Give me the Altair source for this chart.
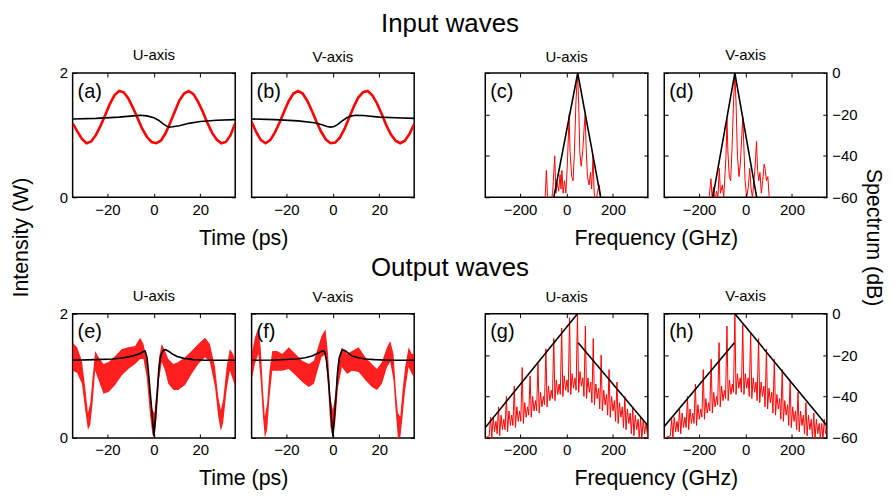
import altair as alt
import pandas as pd

FONT = "Liberation Sans"
RED = "#ff0000"
W, H = 163.5, 125
TK = 4

# ---------------- input waves, time domain (a) (b) ----------------
T_IN = [-35, -33, -31, -29, -27, -25, -23, -21, -19, -17, -15, -13, -11, -9, -7, -5, -3, -1,
        1, 3, 5, 7, 9, 11, 13, 15, 17, 19, 21, 23, 25, 27, 29, 31, 33, 35]
RED_A = [1.19, 1.06, 0.94, 0.87, 0.90, 1.00, 1.15, 1.32, 1.50, 1.64, 1.71, 1.69, 1.59, 1.44, 1.27, 1.10, 0.97, 0.89,
         0.87, 0.91, 1.03, 1.20, 1.38, 1.56, 1.67, 1.71, 1.66, 1.54, 1.38, 1.20, 1.04, 0.93, 0.87, 0.89, 1.00, 1.19]
RED_B = [1.21, 1.05, 0.92, 0.87, 0.92, 1.04, 1.20, 1.38, 1.55, 1.67, 1.71, 1.67, 1.55, 1.39, 1.21, 1.05, 0.93, 0.87,
         0.88, 0.96, 1.10, 1.28, 1.46, 1.61, 1.69, 1.71, 1.64, 1.51, 1.34, 1.16, 1.01, 0.91, 0.87, 0.91, 1.02, 1.18]
T_BA = [-35, -25, -15, -9, -6, -3, 0, 2, 4, 5.5, 6.5, 8, 11, 15, 20, 27, 35]
BLK_A = [1.26, 1.27, 1.29, 1.31, 1.32, 1.31, 1.28, 1.24, 1.18, 1.145, 1.13, 1.135, 1.15, 1.19, 1.22, 1.24, 1.25]
T_BB = [-35, -25, -15, -8, -5, -2.5, -1, 0.5, 2, 4, 6, 8, 10, 13, 20, 27, 35]
BLK_B = [1.26, 1.25, 1.23, 1.20, 1.17, 1.14, 1.13, 1.14, 1.17, 1.23, 1.28, 1.31, 1.32, 1.315, 1.29, 1.28, 1.27]

# ---------------- input spectra (c) (d) ----------------
F_C = [-100, -92, -87, -82, -70, -60, -51, -46, -40, -34, -28, -24, -20, -15, -9, -3, 3, 8, 11, 15, 22, 28,
       34, 40, 47, 52, 57, 63, 70, 76, 80, 84, 90, 97, 103, 108, 114, 119, 126, 134, 141, 146, 152]
DB_C = [-62, -60, -47, -60, -63, -58, -40, -58, -53, -57, -49, -56, -47, -58, -52, -58, -45, -30, -20, -38, -50, -52,
        -38, -15, 0, -14, -38, -45, -37, -26, -20, -35, -50, -54, -48, -56, -40, -58, -62, -57, -54, -60, -64]
F_BC = [-55, 48, 147]
DB_BC = [-60, 0, -60]
F_D = [-160, -149, -144, -138, -132, -125, -119, -113, -108, -100, -94, -88, -84, -80, -76, -70, -64, -58, -52, -46,
       -41, -35, -28, -22, -16, -12, -8, -2, 5, 12, 18, 24, 30, 36, 42, 47, 52, 57, 62, 68, 74, 80, 84, 90, 96, 102, 108]
DB_D = [-64, -51, -60, -55, -62, -57, -60, -46, -58, -54, -60, -48, -40, -22, -38, -50, -52, -36, -15, 0,
        -14, -40, -50, -43, -30, -21, -33, -52, -60, -55, -46, -56, -60, -52, -44, -33, -47, -52, -48, -58, -52, -44, -46, -52, -50, -60, -64]
F_BD = [-141, -46, 48]
DB_BD = [-60, 0, -60]

# ---------------- output waves, time domain (e) (f): noisy band limits ----------------
T_E = [-35, -33.1, -31, -29.6, -28.4, -27.4, -26.4, -25.3, -23.8, -21.7, -19.5, -16.7, -13.8, -11, -8.1, -5.9, -4.5,
       -3.1, -1.6, -0.6, 0.2, 1.2, 2.2, 3.4, 4.8, 6.2, 8.4, 10.5, 13.4, 16.2, 19.1, 22, 24.1, 26.3, 27.7, 28.8, 29.8,
       31.3, 32.7, 34.1, 35]
HI_E = [1.53, 1.46, 1.24, 0.82, 0.40, 0.56, 0.98, 1.40, 1.30, 1.19, 1.22, 1.32, 1.43, 1.46, 1.48, 1.61, 1.51,
        1.27, 0.71, 0.45, 0.40, 0.77, 1.30, 1.51, 1.40, 1.27, 1.19, 1.22, 1.30, 1.40, 1.51, 1.61, 1.51, 1.14, 0.66, 0.45, 0.61,
        1.14, 1.43, 1.35, 1.24]
LO_E = [1.08, 1.05, 0.87, 0.45, 0.13, 0.21, 0.56, 1.08, 0.93, 0.71, 0.74, 0.85, 1.01, 1.11, 1.19, 1.27, 1.27,
        0.98, 0.34, 0.05, 0.00, 0.34, 0.93, 1.22, 1.08, 0.87, 0.77, 0.77, 0.85, 1.03, 1.19, 1.30, 1.22, 0.82, 0.34, 0.11, 0.24,
        0.77, 1.08, 0.93, 0.82]
T_BE = [-35, -25, -18, -13, -9, -6, -4.5, -3.8, -3, -2.4, -1.2, -0.5, 0, 0.5, 1.1, 2.2, 3, 4, 5, 6.5, 8, 10, 13, 17, 22, 35]
BLK_E = [1.25, 1.26, 1.27, 1.29, 1.32, 1.36, 1.39, 1.40, 1.30, 1.08, 0.56, 0.25, 0.03, 0.25, 0.56, 1.14, 1.33, 1.41,
         1.42, 1.39, 1.35, 1.31, 1.28, 1.26, 1.25, 1.25]
T_F = [-35, -33.6, -32.1, -31.1, -30.1, -29.3, -28.3, -27.3, -26.1, -24, -21.8, -19, -16.1, -13.2, -10.4, -8.2, -6.4,
       -4.9, -3.2, -2.1, -1.1, 0, 1.1, 2.2, 3.9, 6.1, 8.2, 11.1, 14, 16.8, 19, 21.1, 23.3, 24.7, 26.1, 27.1, 28, 29, 30,
       31.1, 32.6, 34, 35]
HI_F = [1.35, 1.61, 1.77, 1.46, 0.77, 0.34, 0.56, 1.08, 1.40, 1.40, 1.35, 1.46, 1.35, 1.24, 1.19, 1.24, 1.46,
        1.64, 1.75, 1.35, 0.66, 0.45, 0.71, 1.24, 1.46, 1.35, 1.40, 1.46, 1.30, 1.19, 1.11, 1.22, 1.46, 1.56, 1.35, 0.77, 0.40,
        0.34, 0.77, 1.14, 1.46, 1.35, 1.35]
LO_F = [0.93, 1.19, 1.35, 0.93, 0.34, 0.00, 0.13, 0.66, 1.08, 1.08, 1.08, 1.11, 1.01, 0.90, 0.82, 0.87, 1.11,
        1.30, 1.35, 0.82, 0.19, 0.00, 0.29, 0.82, 1.14, 1.03, 1.08, 1.06, 0.93, 0.82, 0.77, 0.87, 1.14, 1.22, 0.93, 0.40, 0.00,
        0.00, 0.34, 0.77, 1.14, 1.03, 0.98]
T_BF = [-35, -25, -16, -12, -9, -6, -4.4, -3.6, -2.8, -2, -1, -0.4, 0, 0.4, 1, 2, 2.8, 3.9, 5, 6.5, 8.2, 11, 14, 18, 24, 35]
BLK_F = [1.25, 1.255, 1.27, 1.29, 1.32, 1.37, 1.40, 1.39, 1.25, 0.98, 0.50, 0.20, 0.02, 0.20, 0.50, 1.05, 1.30, 1.41,
         1.41, 1.37, 1.32, 1.29, 1.27, 1.26, 1.25, 1.25]

# ---------------- output spectra (g) (h) ----------------
F_G = [-350,
       -333, -327, -322, -316, -310, -304, -299, -293, -288, -282, -276, -270,
       -265, -259, -254, -248, -242, -236, -231, -225, -220, -214, -208, -202,
       -197, -191, -186, -180, -174, -168, -163, -157, -152, -146, -140, -134,
       -129, -123, -118, -112, -106, -100, -95, -89, -84, -78, -72, -66,
       -61, -55, -50, -44, -38, -32, -27, -21, -16, -10, -4, 2,
       7, 13, 18, 24, 30, 36, 41, 47, 52, 58, 64, 70,
       75, 81, 86, 92, 98, 104, 109, 115, 120, 126, 132, 138,
       143, 149, 154, 160, 166, 172, 177, 183, 188, 194, 200, 206,
       211, 217, 222, 228, 234, 240, 245, 251, 256, 262, 268, 274,
       279, 285, 290, 296, 302, 308, 313, 319, 324, 330, 336, 342,
       350]
DB_G = [-60,
        -59, -50, -60, -50, -57, -52, -58, -45, -59, -49, -56, -51,
        -56, -40, -57, -47, -54, -49, -54, -35, -55, -45, -52, -47,
        -52, -26, -53, -43, -50, -45, -49, -30, -50, -40, -47, -42,
        -47, -24, -48, -38, -45, -40, -44, -17, -45, -35, -42, -37,
        -41, -12, -42, -32, -39, -34, -39, -7, -40, -30, -37, -32,
        -38, -2, -39, -29, -36, -31, -37, 0, -38, -28, -35, -31,
        -40, -6, -41, -31, -38, -33, -43, -12, -44, -34, -41, -36,
        -46, -20, -47, -37, -44, -39, -49, -27, -50, -40, -47, -42,
        -52, -33, -53, -43, -50, -45, -55, -40, -56, -46, -53, -48,
        -58, -45, -59, -49, -56, -51, -60, -50, -61, -51, -58, -53,
        -60]
F_BG = [-350, 47, 50, 350]
DB_BG = [-55, 0, -14, -54]
SEG_G = [0, 0, 1, 1]
F_H = [-350,
       -324, -318, -313, -307, -301, -295, -290, -284, -279, -273, -267, -261,
       -256, -250, -245, -239, -233, -227, -222, -216, -211, -205, -199, -193,
       -188, -182, -177, -171, -165, -159, -154, -148, -143, -137, -131, -125,
       -120, -114, -109, -103, -97, -91, -86, -80, -75, -69, -63, -57,
       -52, -46, -41, -35, -29, -23, -18, -12, -7, -1, 5, 11,
       16, 22, 27, 33, 39, 45, 50, 56, 61, 67, 73, 79,
       84, 90, 95, 101, 107, 113, 118, 124, 129, 135, 141, 147,
       152, 158, 163, 169, 175, 181, 186, 192, 197, 203, 209, 215,
       220, 226, 231, 237, 243, 249, 254, 260, 265, 271, 277, 283,
       288, 294, 299, 305, 311, 317, 322, 328, 333, 339, 345, 350]
DB_H = [-60,
        -59, -51, -60, -50, -57, -52, -57, -46, -58, -48, -55, -50,
        -55, -40, -56, -46, -53, -48, -53, -34, -54, -44, -51, -46,
        -50, -27, -51, -41, -48, -43, -47, -22, -48, -38, -45, -40,
        -44, -14, -45, -35, -42, -37, -41, -6, -42, -32, -39, -34,
        -38, 0, -39, -29, -36, -31, -38, -5, -39, -29, -36, -31,
        -40, -9, -41, -31, -38, -33, -42, -12, -43, -33, -40, -35,
        -45, -17, -46, -36, -43, -38, -48, -22, -49, -39, -46, -41,
        -51, -27, -52, -42, -49, -44, -54, -32, -55, -45, -52, -47,
        -56, -38, -57, -47, -54, -49, -58, -43, -59, -49, -56, -51,
        -60, -48, -61, -51, -58, -53, -60, -53, -61, -51, -58, -56]
F_BH = [-350, -48, -46, 350]
DB_BH = [-54.5, -14, 0, -54]
SEG_H = [0, 0, 1, 1]

TIME_TICKS = [-20, 0, 20]
INT_TICKS = [0, 1, 2]
FREQ_TICKS = [-200, 0, 200]
DB_TICKS = [0, -20, -40, -60]

TX = alt.Scale(domain=[-35, 35], nice=False, zero=False)
IY = alt.Scale(domain=[0, 2], nice=False, zero=False)
FX = alt.Scale(domain=[-350, 350], nice=False, zero=False)
DY = alt.Scale(domain=[-60, 0], nice=False, zero=False)


def axis(orient, values, labels, title=None, **extra):
    kw = dict(orient=orient, values=values, labels=labels, format="d", tickSize=TK, offset=-TK,
              domain=False, grid=False, ticks=True, tickColor="black", tickWidth=1, labelFontSize=15,
              labelColor="black", labelPadding=5, labelFlush=False, labelOverlap=False,
              labelFont=FONT, zindex=1, title=title)
    if title is not None:
        kw.update(titleFontSize=21.5, titleFontWeight="normal", titleColor="black", titleFont=FONT,
                  titleAlign="center", titleBaseline="alphabetic")
        kw.update(extra)
    return alt.Axis(**kw)


def line_df(x, y, seg=None):
    return pd.DataFrame({"x": x, "y": y, "seg": seg if seg is not None else [0] * len(x)})


def panel(label, sub, is_time, red_df, red_kind, black_df, xtitle=None, ytitle_left=None,
          ytitle_right=None, left_labels=False, right_labels=False):
    xs, ys = (TX, IY) if is_time else (FX, DY)
    xv, yv = (TIME_TICKS, INT_TICKS) if is_time else (FREQ_TICKS, DB_TICKS)
    xb = axis("bottom", xv, True, xtitle, titleX=171.5, titleY=51) if xtitle else axis("bottom", xv, True)
    xt = axis("top", xv, False)
    yl = (axis("left", yv, left_labels, ytitle_left, titleX=-49.5, titleY=165, titleAngle=270)
          if ytitle_left else axis("left", yv, left_labels))
    yr = (axis("right", yv, right_labels, ytitle_right, titleX=44, titleY=165, titleAngle=90)
          if ytitle_right else axis("right", yv, right_labels))
    if red_kind == "area":
        red = alt.Chart(red_df).mark_area(color=RED, opacity=0.88, clip=True).encode(
            x=alt.X("x:Q", scale=xs, axis=xb),
            y=alt.Y("lo:Q", scale=ys, axis=yl),
            y2="hi:Q")
    else:
        red = alt.Chart(red_df).mark_line(color=RED, strokeWidth=2.6 if is_time else 1.0,
                                          clip=True).encode(
            x=alt.X("x:Q", scale=xs, axis=xb),
            y=alt.Y("y:Q", scale=ys, axis=yl))
    black = alt.Chart(black_df).mark_line(color="black", strokeWidth=1.6, clip=True).encode(
        x=alt.X("x:Q", scale=xs, axis=xt),
        y=alt.Y("y:Q", scale=ys, axis=yr),
        detail="seg:N")
    lab = alt.Chart(pd.DataFrame({"label": [label]})).mark_text(
        align="left", baseline="alphabetic", fontSize=20, font=FONT, color="black").encode(
        text="label:N", x=alt.value(5), y=alt.value(25))
    # panels with a tick label at the top corner have taller bounds
    off = -9 if (left_labels or right_labels) else -4
    return alt.layer(red, black, lab).resolve_axis(x="independent", y="independent").properties(
        width=W, height=H,
        title=alt.Title(sub, fontSize=15, fontWeight="normal", font=FONT, color="black",
                        baseline="alphabetic", offset=off, anchor="middle"))


def spacer(text, off):
    return alt.Chart(pd.DataFrame({"v": [0]})).mark_point(opacity=0).encode(
        x=alt.X("v:Q", axis=None), y=alt.Y("v:Q", axis=None)
    ).properties(width=39, height=H, view=alt.ViewBackground(stroke="transparent"),
                 title=alt.Title(text, fontSize=26, fontWeight="normal", font=FONT, color="black",
                                 baseline="alphabetic", offset=off, anchor="middle"))


pa = panel("(a)", "U-axis", True, line_df(T_IN, RED_A), "line", line_df(T_BA, BLK_A),
           xtitle="Time (ps)", ytitle_left="Intensity (W)", left_labels=True)
pb = panel("(b)", "V-axis", True, line_df(T_IN, RED_B), "line", line_df(T_BB, BLK_B))
pc = panel("(c)", "U-axis", False, line_df(F_C, DB_C), "line", line_df(F_BC, DB_BC),
           xtitle="Frequency (GHz)")
pd_ = panel("(d)", "V-axis", False, line_df(F_D, DB_D), "line", line_df(F_BD, DB_BD),
            ytitle_right="Spectrum (dB)", right_labels=True)
pe = panel("(e)", "U-axis", True, pd.DataFrame({"x": T_E, "lo": LO_E, "hi": HI_E}), "area",
           line_df(T_BE, BLK_E), xtitle="Time (ps)", left_labels=True)
pf = panel("(f)", "V-axis", True, pd.DataFrame({"x": T_F, "lo": LO_F, "hi": HI_F}), "area",
           line_df(T_BF, BLK_F))
pg = panel("(g)", "U-axis", False, line_df(F_G, DB_G), "line", line_df(F_BG, DB_BG, SEG_G),
           xtitle="Frequency (GHz)")
ph = panel("(h)", "V-axis", False, line_df(F_H, DB_H), "line", line_df(F_BH, DB_BH, SEG_H),
           right_labels=True)

chart = alt.concat(
    pa, pb, spacer("Input waves", 15.5), pc, pd_,
    pe, pf, spacer("Output waves", 11.5), pg, ph,
    columns=5, spacing={"row": 117, "column": 16}, bounds="flush"
).properties(
    padding={"left": 1, "top": 0, "right": 0, "bottom": 0}
).configure(font=FONT).configure_view(stroke="black", strokeWidth=1.5)

chart.save("out.html", embed_options={"renderer": "svg", "actions": False})
